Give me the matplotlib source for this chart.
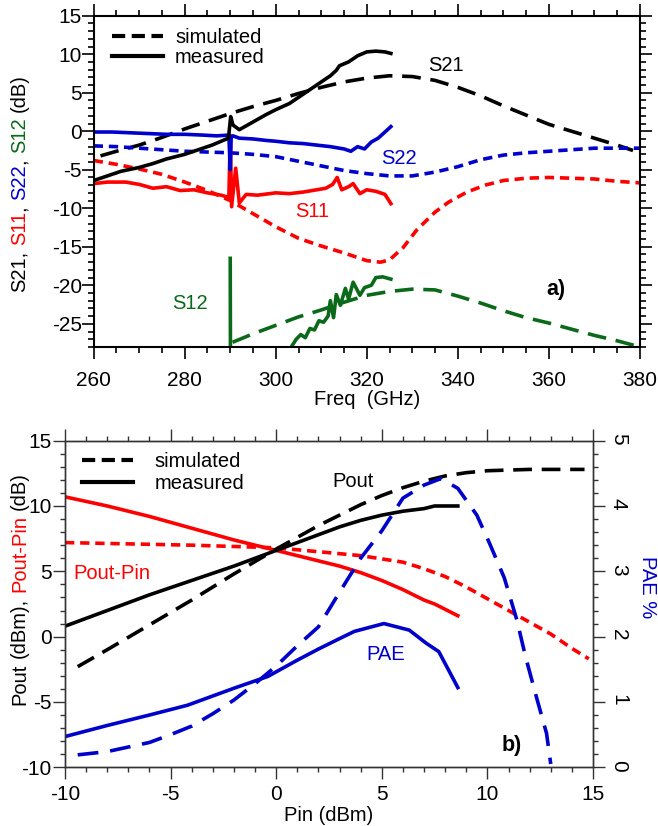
import matplotlib
matplotlib.use("Agg")
import matplotlib.pyplot as plt
from matplotlib.lines import Line2D
from matplotlib.ticker import MultipleLocator
import numpy as np

plt.rcParams['font.family'] = 'Liberation Sans'
plt.rcParams['lines.scale_dashes'] = False
plt.rcParams['axes.unicode_minus'] = False

RED = '#ff0000'
BLUE = '#0000cc'
GREEN = '#0b6a1a'

LONG_DASH = (13.5, 7)
SHORT_DASH = (6.7, 4.2)

# ---- a) S-parameters against frequency (GHz, dB) ----
s21_meas_f = [260, 263, 266, 270, 273, 276, 280, 283, 286, 289.6, 290.1, 290.6, 292, 295, 298,
              300, 303, 305, 308, 310, 312, 313.3, 314, 316, 318, 320, 322, 324, 325.3]
s21_meas = [-6.4, -5.8, -5.2, -4.7, -4.2, -3.6, -3.0, -2.4, -1.8, -0.9, 1.9, 0.8, 0.2, 1.2, 2.2,
            2.8, 3.6, 4.4, 5.6, 6.4, 7.2, 7.9, 8.5, 9.0, 9.8, 10.3, 10.4, 10.3, 10.1]

s21_sim_f = [261.5, 265, 270, 275, 280, 285, 290, 295, 300, 305, 310, 315, 320, 325, 330,
             335, 340, 345, 350, 355, 360, 365, 370, 375, 378.5]
s21_sim = [-3.2, -2.6, -1.8, -0.8, 0.3, 1.3, 2.3, 3.2, 4.0, 4.9, 5.7, 6.4, 6.9, 7.2, 7.1,
           6.6, 5.7, 4.6, 3.3, 2.1, 0.9, 0.0, -0.9, -1.8, -2.5]

s22_meas_f = [260, 264, 268, 272, 276, 280, 284, 287, 289.7, 290.0, 290.2, 290.6, 292, 295, 298,
              300, 303, 306, 309, 312, 315, 316.5, 318, 319.5, 321, 322.5, 324, 325.3]
s22_meas = [-0.1, -0.1, -0.2, -0.3, -0.4, -0.4, -0.5, -0.6, -0.5, -5.0, -0.8, -0.6, -0.9, -1.0, -1.2,
            -1.3, -1.5, -1.6, -1.8, -2.0, -2.3, -2.6, -2.0, -2.3, -1.4, -0.9, -0.1, 0.6]

s22_sim_f = [260, 265, 270, 275, 280, 285, 290, 295, 300, 305, 310, 315, 320, 325, 330,
             335, 340, 345, 350, 355, 360, 365, 370, 375, 380]
s22_sim = [-1.9, -2.0, -2.2, -2.4, -2.6, -2.7, -2.8, -3.0, -3.3, -3.9, -4.5, -5.1, -5.5, -5.8, -5.8,
           -5.3, -4.6, -3.7, -3.1, -2.8, -2.6, -2.4, -2.2, -2.2, -2.2]

s11_meas_f = [260, 263, 267, 270, 273, 276, 279, 282, 285, 288, 289.7, 290.0, 290.3, 291.2, 292,
              293.5, 296, 300, 303, 306, 309, 311, 312.5, 313.5, 314.5, 316, 317, 318.5, 320,
              322, 324, 325.3]
s11_meas = [-6.8, -6.6, -6.6, -6.9, -7.4, -7.2, -7.7, -7.6, -8.0, -8.3, -8.6, -0.5, -9.8, -4.8, -9.3,
            -8.2, -8.3, -8.0, -8.1, -7.9, -7.6, -7.4, -6.9, -6.0, -7.6, -7.2, -6.8, -8.1, -7.6,
            -7.8, -8.2, -9.4]

s11_sim_f = [260, 265, 270, 275, 280, 285, 290, 295, 300, 305, 310, 315, 320, 323, 325, 328,
             331, 335, 338, 342, 346, 350, 355, 360, 365, 370, 375, 380]
s11_sim = [-3.8, -4.3, -4.9, -5.6, -6.6, -7.7, -9.0, -10.7, -12.4, -13.9, -14.9, -15.8, -16.8,
           -17.0, -16.7, -15.1, -12.8, -10.5, -9.2, -7.9, -7.0, -6.4, -6.1, -6.0, -6.1, -6.2,
           -6.5, -6.7]

# measured S12 drops below the plotted range between the spike and ~303 GHz
s12_meas_f = [290.0, 290.05, np.nan, 303.2, 304.5, 305.5, 306.5, 307.5, 308.5, 309.5, 310.5,
              311.5, 312.0, 312.7, 313.3, 314.2, 315.3, 316.0, 317.0, 318.5, 319.5, 321.0,
              322.0, 323.5, 325.3]
s12_meas = [-16.5, -30, np.nan, -28.2, -27.0, -26.4, -26.8, -25.6, -25.8, -24.6, -24.8,
            -24.0, -22.0, -24.2, -21.2, -22.6, -20.4, -21.8, -19.6, -21.3, -20.3, -20.0,
            -19.0, -18.9, -19.2]

s12_sim_f = [290.5, 295, 300, 305, 310, 315, 320, 325, 330, 335, 340, 345, 350, 355, 360,
             365, 370, 375, 380]
s12_sim = [-27.4, -26.3, -25.2, -24.1, -23.2, -22.2, -21.3, -20.8, -20.5, -20.6, -21.4, -22.3,
           -23.3, -24.2, -24.9, -25.7, -26.5, -27.2, -28.0]

# ---- b) power sweep (Pin in dBm) ----
pin_meas = [-10, -8, -6, -4, -2, 0, 1, 2, 3, 4, 5, 6, 7, 7.5, 8.6]
pout_meas = [0.8, 2.0, 3.2, 4.3, 5.4, 6.6, 7.2, 7.8, 8.4, 8.9, 9.3, 9.6, 9.8, 10.0, 10.0]
gain_meas = [10.7, 10.0, 9.2, 8.3, 7.4, 6.6, 6.2, 5.8, 5.4, 4.9, 4.3, 3.6, 2.8, 2.5, 1.6]

pin_pout_sim = [-9.4, -8, -6, -4, -2, 0, 2, 3, 4, 5, 6, 7, 8, 9, 10, 12, 14.6]
pout_sim = [-2.3, -1.0, 0.9, 2.8, 4.8, 6.7, 8.5, 9.3, 10.1, 10.8, 11.4, 11.9, 12.3, 12.55,
            12.7, 12.8, 12.8]

pin_gain_sim = [-10, -7, -4, -2, 0, 2, 4, 6, 7, 8, 9, 10, 11, 12, 13, 14, 14.8]
gain_sim = [7.2, 7.1, 7.0, 6.9, 6.8, 6.5, 6.2, 5.7, 5.2, 4.6, 3.8, 2.9, 2.0, 1.1, 0.2, -0.9, -1.7]

pin_pae_meas = [-10, -8, -6, -4.2, -2, -0.4, 1, 2, 3, 3.7, 5.1, 6.3, 7.1, 7.7, 8.6]
pae_meas = [0.47, 0.64, 0.80, 0.95, 1.21, 1.39, 1.64, 1.81, 1.97, 2.08, 2.2, 2.1, 1.9, 1.77, 1.22]

pin_pae_sim = [-9.4, -8, -6, -5, -4, -3, -2, -1, 0, 1, 2, 3, 4, 5, 6, 7, 7.8, 8.6, 9.5, 10.1,
               10.8, 11.4, 11.8, 12.3, 12.8, 13.0]
pae_sim = [0.19, 0.24, 0.38, 0.5, 0.63, 0.82, 1.03, 1.28, 1.55, 1.86, 2.15, 2.68, 3.2, 3.62,
           4.12, 4.32, 4.42, 4.27, 3.86, 3.43, 2.9, 2.25, 1.7, 1.1, 0.52, 0.05]

LW = 2.6
FS = 14.5
TICK_FS = 15


def stacked_ylabel(fig, x, y, parts, size):
    """Draw a vertical label made of differently coloured pieces, end to end."""
    r = fig.canvas.get_renderer()
    bar = fig.text(0, 0, '|', fontsize=size)
    bar_w = bar.get_window_extent(r).width
    bar.remove()
    text = ''
    for piece, color in parts:
        if color is not None:
            offset = 0
            if text:
                probe = fig.text(0, 0, text + '|', fontsize=size)
                offset = probe.get_window_extent(r).width - bar_w
                probe.remove()
            fig.text(x, y + offset / fig.bbox.height, piece, color=color, fontsize=size,
                     rotation=90, rotation_mode='anchor', ha='left', va='baseline')
        text += piece


fig = plt.figure(figsize=(6.58, 8.26), dpi=100)

# ------------------------------------------------------------------ a)
ax = fig.add_axes([0.1424, 0.580, 0.830, 0.401])
ax.plot(s21_sim_f, s21_sim, color='k', lw=LW, dashes=LONG_DASH)
ax.plot(s22_sim_f, s22_sim, color=BLUE, lw=LW, dashes=SHORT_DASH)
ax.plot(s11_sim_f, s11_sim, color=RED, lw=LW, dashes=SHORT_DASH)
ax.plot(s12_sim_f, s12_sim, color=GREEN, lw=LW, dashes=LONG_DASH)
ax.plot(s12_meas_f, s12_meas, color=GREEN, lw=LW)
ax.plot(s11_meas_f, s11_meas, color=RED, lw=LW)
ax.plot(s22_meas_f, s22_meas, color=BLUE, lw=LW)
ax.plot(s21_meas_f, s21_meas, color='k', lw=LW)

ax.set_xlim(260, 380)
ax.set_ylim(-28, 15)
ax.xaxis.set_major_locator(MultipleLocator(20))
ax.xaxis.set_minor_locator(MultipleLocator(5))
ax.yaxis.set_major_locator(MultipleLocator(5))
ax.yaxis.set_minor_locator(MultipleLocator(1))
ax.tick_params(which='both', direction='out', top=True, right=True, width=1.2,
               labelsize=TICK_FS)
ax.tick_params(which='major', length=8.5)
ax.tick_params(which='minor', length=4.5)
ax.tick_params(axis='y', pad=0)
ax.tick_params(axis='x', pad=9)
for s in ax.spines.values():
    s.set_linewidth(1.5)
ax.set_xlabel('Freq  (GHz)', fontsize=FS, labelpad=0)

ax.text(337.4, 8.5, 'S21', fontsize=FS, color='k', ha='center', va='center')
ax.text(327, -3.5, 'S22', fontsize=FS, color=BLUE, ha='center', va='center')
ax.text(308, -10.4, 'S11', fontsize=FS, color=RED, ha='center', va='center')
ax.text(281.2, -22.3, 'S12', fontsize=FS, color=GREEN, ha='center', va='center')
ax.text(361.6, -20.6, 'a)', fontsize=FS + 1, fontweight='bold', ha='center', va='center')

leg_handles = [Line2D([], [], color='k', lw=3, dashes=(9.5, 4.7)),
               Line2D([], [], color='k', lw=3)]
ax.legend(leg_handles, ['simulated', 'measured'], loc='upper left',
          bbox_to_anchor=(0.033, 0.962), frameon=False, fontsize=FS, borderpad=0,
          borderaxespad=0, handlelength=2.57, handletextpad=0.58, labelspacing=0.05)

# ------------------------------------------------------------------ b)
bx = fig.add_axes([0.0988, 0.0711, 0.8024, 0.3954])
bx.plot(pin_gain_sim, gain_sim, color=RED, lw=LW, dashes=SHORT_DASH)
bx.plot(pin_meas, gain_meas, color=RED, lw=LW)
bx.plot(pin_pout_sim, pout_sim, color='k', lw=LW, dashes=LONG_DASH)
bx.plot(pin_meas, pout_meas, color='k', lw=LW)
bx.set_xlim(-10, 15)
bx.set_ylim(-10, 15)
bx.xaxis.set_major_locator(MultipleLocator(5))
bx.xaxis.set_minor_locator(MultipleLocator(1))
bx.yaxis.set_major_locator(MultipleLocator(5))
bx.yaxis.set_minor_locator(MultipleLocator(1))
bx.tick_params(which='both', direction='out', top=True, right=False, width=1.0,
               color='#333333', labelsize=TICK_FS)
bx.tick_params(which='major', length=8.5)
bx.tick_params(which='minor', length=3.8)
bx.tick_params(axis='y', pad=1)
bx.tick_params(axis='x', pad=4)
bx.set_xlabel('Pin (dBm)', fontsize=FS, labelpad=2)

px = bx.twinx()
px.plot(pin_pae_sim, pae_sim, color=BLUE, lw=LW, dashes=(15, 8.5))
px.plot(pin_pae_meas, pae_meas, color=BLUE, lw=LW)
px.set_ylim(0, 5)
px.yaxis.set_major_locator(MultipleLocator(1))
px.yaxis.set_minor_locator(MultipleLocator(0.2))
px.tick_params(which='both', direction='out', width=1.0, color='#333333', labelsize=TICK_FS,
               labelrotation=270, pad=3)
px.tick_params(which='major', length=8.5)
px.tick_params(which='minor', length=3.8)
for a in (bx, px):
    for s in a.spines.values():
        s.set_linewidth(1.0)
        s.set_color('#333333')

bx.text(3.66, 11.9, 'Pout', fontsize=FS, color='k', ha='center', va='center')
bx.text(-7.79, 4.8, 'Pout-Pin', fontsize=FS, color=RED, ha='center', va='center')
bx.text(5.17, -1.36, 'PAE', fontsize=FS, color=BLUE, ha='center', va='center')
bx.text(11.17, -8.36, 'b)', fontsize=FS + 1, fontweight='bold', ha='center', va='center')

px.legend(leg_handles, ['simulated', 'measured'], loc='upper left',
          bbox_to_anchor=(0.0316, 0.964), frameon=False, fontsize=FS, borderpad=0,
          borderaxespad=0, handlelength=2.57, handletextpad=1.03, labelspacing=0.15)

fig.text(647 / 658, 1 - 587 / 826, 'PAE %', color=BLUE, fontsize=FS, rotation=270,
         ha='center', va='center')

stacked_ylabel(fig, 25 / 658, 1 - 291.7 / 826,
               [('S21,', 'k'), (' ', None), ('S11', RED), (',', 'k'), (' ', None),
                ('S22', BLUE), (',', 'k'), (' ', None), ('S12', GREEN), (' ', None),
                ('(dB)', 'k')], FS)
stacked_ylabel(fig, 25 / 658, 1 - 705 / 826,
               [('Pout', 'k'), (' ', None), ('(dBm),', 'k'), (' ', None),
                ('Pout-Pin', RED), (' ', None), ('(dB)', 'k')], FS)

fig.savefig('out.png', dpi=100)
